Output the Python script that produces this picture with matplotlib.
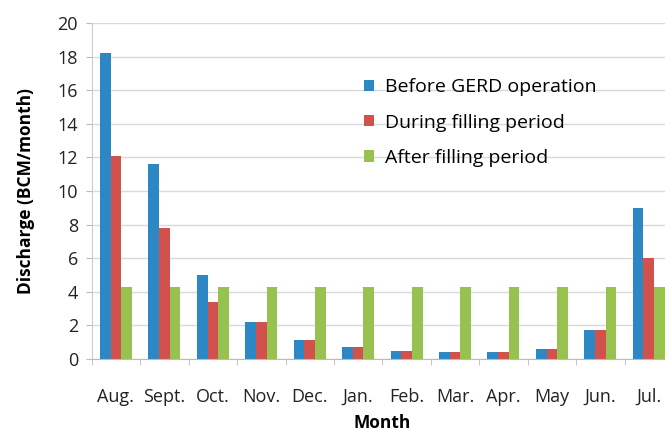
import numpy as np
import matplotlib.pyplot as plt

plt.rcParams['font.family'] = ['Open Sans', 'DejaVu Sans']

months = ["Aug.", "Sept.", "Oct.", "Nov.", "Dec.", "Jan.", "Feb.", "Mar.", "Apr.", "May", "Jun.", "Jul."]
before = [18.2, 11.6, 5.0, 2.2, 1.1, 0.7, 0.5, 0.4, 0.4, 0.6, 1.7, 9.0]
during = [12.1, 7.8, 3.4, 2.2, 1.1, 0.7, 0.5, 0.4, 0.4, 0.6, 1.7, 6.0]
after = [4.3, 4.3, 4.3, 4.3, 4.3, 4.3, 4.3, 4.3, 4.3, 4.3, 4.3, 4.3]
labels = ["Before GERD operation", "During filling period", "After filling period"]
colors = ["#2C88C4", "#D2514C", "#98C24F"]

fig = plt.figure(figsize=(6.65, 4.33), dpi=100)
ax = fig.add_axes([0.138, 0.171, 0.874, 0.776])

x = np.arange(len(months))
w = 0.22
for i, (vals, lab, c) in enumerate(zip([before, during, after], labels, colors)):
    ax.bar(x + (i - 1) * w, vals, w, color=c, label=lab, zorder=2)

ax.set_xlim(-0.5, len(months) - 0.5)
ax.set_ylim(0, 20)
ax.set_yticks(np.arange(0, 21, 2))
ax.set_xticks(x)
ax.set_xticklabels(months)
ax.set_xticks(np.arange(-0.5, len(months)), minor=True)
ax.tick_params(axis='x', which='major', length=0, pad=21, labelsize=13, colors='#222222')
ax.tick_params(axis='x', which='minor', length=4, color='#bbbbbb')
ax.tick_params(axis='y', length=4, color='#bbbbbb', labelsize=13, labelcolor='#222222', pad=6)

ax.grid(axis='y', color='#d9d9d9', linewidth=1, zorder=0)
for s in ['top', 'right']:
    ax.spines[s].set_visible(False)
ax.spines['left'].set_color('#cccccc')
ax.spines['bottom'].set_color('#bbbbbb')

ax.set_ylabel("Discharge (BCM/month)", fontsize=12.5, fontweight='bold', labelpad=16)
ax.set_xlabel("Month", fontsize=12.5, fontweight='bold', labelpad=6)

ax.legend(loc='upper left', bbox_to_anchor=(0.468, 0.835), frameon=False, fontsize=14,
          handlelength=0.55, handleheight=0.55, handletextpad=0.55, labelspacing=0.88,
          borderaxespad=0, borderpad=0)

fig.savefig("out.png", dpi=100)
